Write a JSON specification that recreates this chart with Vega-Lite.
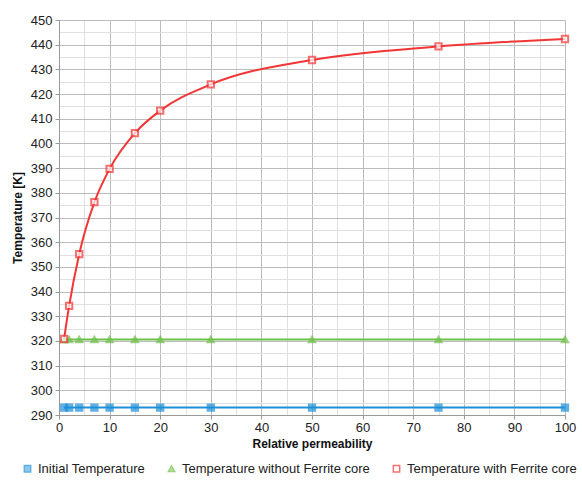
{
  "$schema": "https://vega.github.io/schema/vega-lite/v6.json",
  "width": 506,
  "height": 395,
  "padding": {"left": 11, "top": 14, "right": 5, "bottom": 5},
  "config": {
    "font": "Liberation Sans",
    "view": {"stroke": null},
    "axis": {"labelFont": "Liberation Sans", "titleFont": "Liberation Sans", "labelFontSize": 13, "titleFontSize": 12, "titleFontWeight": "bold", "labelColor": "#222", "titleColor": "#111", "domainColor": "#999", "tickColor": "#999"},
    "legend": {"labelFont": "Liberation Sans", "labelFontSize": 13, "labelColor": "#222", "labelLimit": 400}
  },
  "data": {"values": [
    {"p": 1, "s": "Initial Temperature", "T": 293},
    {"p": 2, "s": "Initial Temperature", "T": 293},
    {"p": 4, "s": "Initial Temperature", "T": 293},
    {"p": 7, "s": "Initial Temperature", "T": 293},
    {"p": 10, "s": "Initial Temperature", "T": 293},
    {"p": 15, "s": "Initial Temperature", "T": 293},
    {"p": 20, "s": "Initial Temperature", "T": 293},
    {"p": 30, "s": "Initial Temperature", "T": 293},
    {"p": 50, "s": "Initial Temperature", "T": 293},
    {"p": 75, "s": "Initial Temperature", "T": 293},
    {"p": 100, "s": "Initial Temperature", "T": 293},
    {"p": 1, "s": "Temperature without Ferrite core", "T": 320.6},
    {"p": 2, "s": "Temperature without Ferrite core", "T": 320.6},
    {"p": 4, "s": "Temperature without Ferrite core", "T": 320.6},
    {"p": 7, "s": "Temperature without Ferrite core", "T": 320.6},
    {"p": 10, "s": "Temperature without Ferrite core", "T": 320.6},
    {"p": 15, "s": "Temperature without Ferrite core", "T": 320.6},
    {"p": 20, "s": "Temperature without Ferrite core", "T": 320.6},
    {"p": 30, "s": "Temperature without Ferrite core", "T": 320.6},
    {"p": 50, "s": "Temperature without Ferrite core", "T": 320.6},
    {"p": 75, "s": "Temperature without Ferrite core", "T": 320.6},
    {"p": 100, "s": "Temperature without Ferrite core", "T": 320.6},
    {"p": 1, "s": "Temperature with Ferrite core", "T": 320.8},
    {"p": 2, "s": "Temperature with Ferrite core", "T": 334.2},
    {"p": 4, "s": "Temperature with Ferrite core", "T": 355.2},
    {"p": 7, "s": "Temperature with Ferrite core", "T": 376.2},
    {"p": 10, "s": "Temperature with Ferrite core", "T": 389.7},
    {"p": 15, "s": "Temperature with Ferrite core", "T": 404.2},
    {"p": 20, "s": "Temperature with Ferrite core", "T": 413.3},
    {"p": 30, "s": "Temperature with Ferrite core", "T": 423.9},
    {"p": 50, "s": "Temperature with Ferrite core", "T": 433.8},
    {"p": 75, "s": "Temperature with Ferrite core", "T": 439.3},
    {"p": 100, "s": "Temperature with Ferrite core", "T": 442.3}
  ]},
  "encoding": {
    "x": {"field": "p", "type": "quantitative", "title": "Relative permeability",
      "scale": {"domain": [0, 100], "nice": false},
      "axis": {"values": [0,5,10,15,20,25,30,35,40,45,50,55,60,65,70,75,80,85,90,95,100],
        "labelExpr": "datum.value % 10 === 0 ? datum.label : ''",
        "gridColor": {"condition": {"test": "datum.value % 10 === 0", "value": "#bcbcbc"}, "value": "#e0e0e0"},
        "tickOpacity": {"condition": {"test": "datum.value % 10 === 0", "value": 1}, "value": 0},
        "tickSize": 4, "labelPadding": 2, "titlePadding": 4, "labelFlush": false}},
    "y": {"field": "T", "type": "quantitative", "title": "Temperature [K]",
      "scale": {"domain": [290, 450], "nice": false, "zero": false},
      "axis": {"values": [290,295,300,305,310,315,320,325,330,335,340,345,350,355,360,365,370,375,380,385,390,395,400,405,410,415,420,425,430,435,440,445,450],
        "labelExpr": "datum.value % 10 === 0 ? datum.label : ''",
        "gridColor": {"condition": {"test": "datum.value % 10 === 0", "value": "#bcbcbc"}, "value": "#e0e0e0"},
        "tickOpacity": {"condition": {"test": "datum.value % 10 === 0", "value": 1}, "value": 0},
        "tickSize": 4, "labelPadding": 3, "titlePadding": 6, "labelFlush": false}},
    "color": {"field": "s", "type": "nominal", "title": null,
      "scale": {"domain": ["Initial Temperature", "Temperature without Ferrite core", "Temperature with Ferrite core"], "range": ["#1e90d8", "#6fc04a", "#f23535"]},
      "legend": {"orient": "none", "legendX": -38, "legendY": 442, "direction": "horizontal", "symbolSize": 40, "columnPadding": 20}}
  },
  "layer": [
    {"mark": {"type": "line", "interpolate": "monotone", "strokeWidth": 2}},
    {"mark": {"type": "point", "filled": false, "size": 40, "strokeWidth": 2},
      "encoding": {
        "shape": {"field": "s", "type": "nominal", "title": null,
          "scale": {"domain": ["Initial Temperature", "Temperature without Ferrite core", "Temperature with Ferrite core"], "range": ["square", "triangle-up", "square"]}},
        "fill": {"field": "s", "type": "nominal", "title": null,
          "scale": {"domain": ["Initial Temperature", "Temperature without Ferrite core", "Temperature with Ferrite core"], "range": ["#1e90d8", "#6fc04a", "white"]}},
        "fillOpacity": {"value": 1}
      }}
  ]
}
